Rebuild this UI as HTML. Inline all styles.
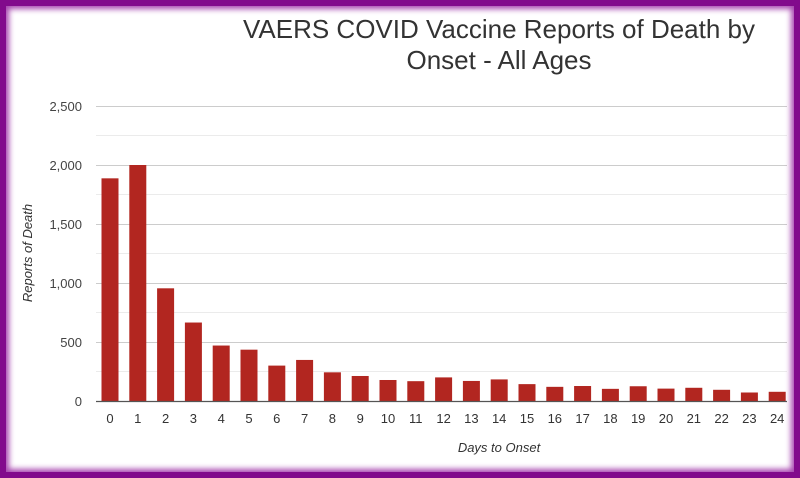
<!DOCTYPE html>
<html><head><style>
html,body{margin:0;padding:0;background:#fff}
.wrap{position:relative;width:800px;height:478px;overflow:hidden;background:#fff}
.frame{position:absolute;inset:0;box-shadow:inset 0 0 0 6px #820a8c, inset 0 0 6px 9px #a848b0;pointer-events:none}
svg{position:absolute;left:0;top:0}
</style></head><body><div class="wrap">
<svg width="800" height="478" xmlns="http://www.w3.org/2000/svg" font-family="Liberation Sans, Arial, sans-serif">
<text x="499" y="38" font-size="26" fill="#333" text-anchor="middle">VAERS COVID Vaccine Reports of Death by</text>
<text x="499" y="69" font-size="26" fill="#333" text-anchor="middle">Onset - All Ages</text>
<g stroke="#ebebeb" stroke-width="1">
<line x1="96" x2="787" y1="135.5" y2="135.5"/><line x1="96" x2="787" y1="194.5" y2="194.5"/><line x1="96" x2="787" y1="253.5" y2="253.5"/><line x1="96" x2="787" y1="312.5" y2="312.5"/><line x1="96" x2="787" y1="371.5" y2="371.5"/>
</g>
<g stroke="#ccc" stroke-width="1">
<line x1="96" x2="787" y1="106.5" y2="106.5"/><line x1="96" x2="787" y1="165.5" y2="165.5"/><line x1="96" x2="787" y1="224.5" y2="224.5"/><line x1="96" x2="787" y1="283.5" y2="283.5"/><line x1="96" x2="787" y1="342.5" y2="342.5"/>
</g>
<g font-size="13" fill="#444" text-anchor="end">
<text x="82" y="111">2,500</text><text x="82" y="170">2,000</text><text x="82" y="229">1,500</text><text x="82" y="288">1,000</text><text x="82" y="347">500</text><text x="82" y="406">0</text>
</g>
<text transform="translate(32,253) rotate(-90)" font-size="13" font-style="italic" fill="#333" text-anchor="middle">Reports of Death</text>
<g id="bars" fill="#b22620"></g>
<line x1="96" x2="787" y1="401.5" y2="401.5" stroke="#555" stroke-width="1.2"/>
<g id="lbl" font-size="13" fill="#333" text-anchor="middle"></g>
<text x="499" y="452" font-size="13" font-style="italic" fill="#333" text-anchor="middle">Days to Onset</text>
</svg>
<div class="frame"></div>
</div>
<script>
var v=[1887,2000,955,665,470,435,300,348,243,212,178,168,200,170,183,143,120,127,103,125,105,112,95,72,78];
var b=document.getElementById('bars'),l=document.getElementById('lbl'),ns='http://www.w3.org/2000/svg';
v.forEach(function(d,i){var cx=110+27.8*i,h=d*0.118;
var r=document.createElementNS(ns,'rect');r.setAttribute('x',cx-8.5);r.setAttribute('width',17);r.setAttribute('y',401-h);r.setAttribute('height',h);b.appendChild(r);
var t=document.createElementNS(ns,'text');t.setAttribute('x',cx);t.setAttribute('y',423);t.textContent=i;l.appendChild(t);});
</script>
</body></html>
